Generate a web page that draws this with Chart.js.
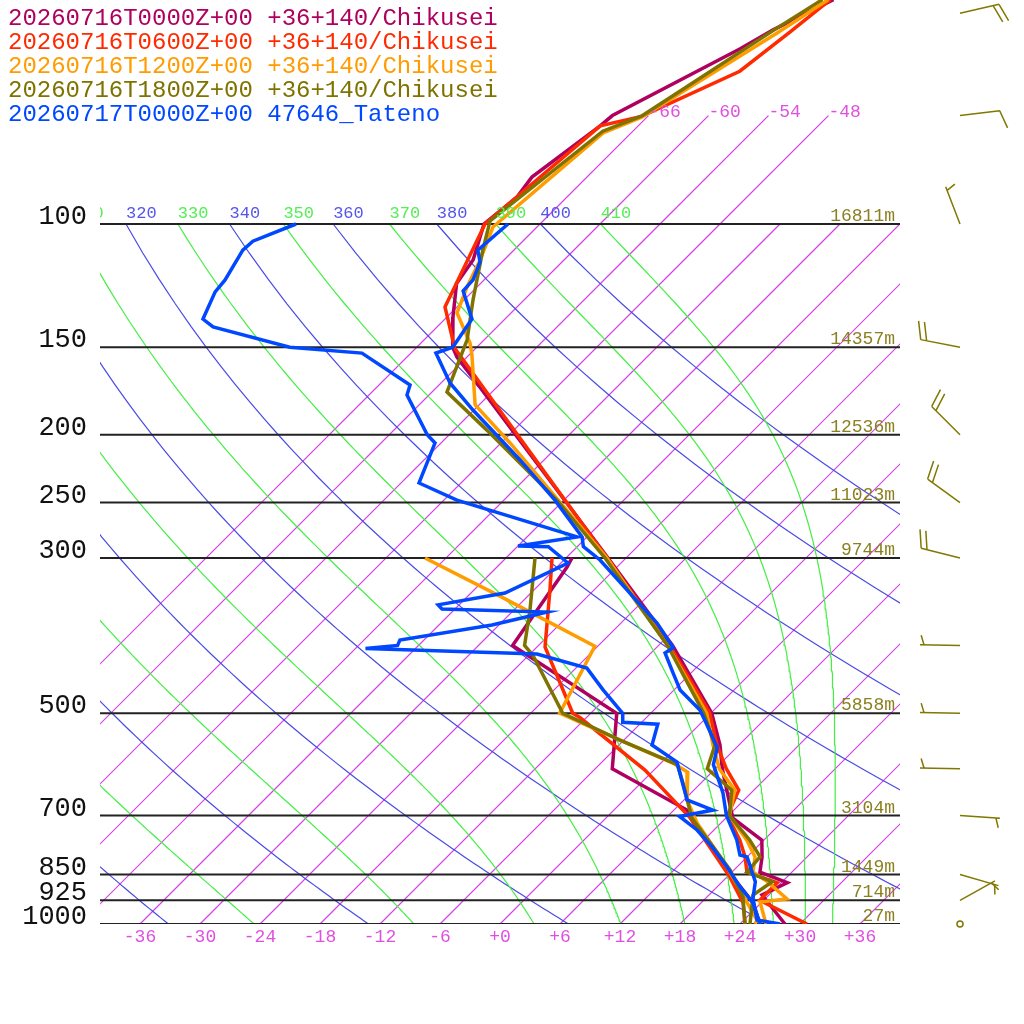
<!DOCTYPE html>
<html>
<head>
<meta charset="utf-8">
<script src="https://cdn.jsdelivr.net/npm/chart.js@4.4.1/dist/chart.umd.min.js"></script>
<style>
  html, body { margin: 0; padding: 0; background: #fff; }
  canvas { display: block; }
</style>
</head>
<body>
<canvas id="skewt" width="1024" height="1024" style="width:1024px;height:1024px"></canvas>
<script>
const CTX = document.getElementById('skewt');

// legend
const runLabels = [
  '20260716T0000Z+00 +36+140/Chikusei',
  '20260716T0600Z+00 +36+140/Chikusei',
  '20260716T1200Z+00 +36+140/Chikusei',
  '20260716T1800Z+00 +36+140/Chikusei',
  '20260717T0000Z+00 47646_Tateno'
];
const runColors = ['#b0005f', '#ff2a00', '#ff9c00', '#7f7300', '#0048ff'];

// 00Z temperature / dew point (hPa, C)
const p00 = [47.8, 52.8, 56.2, 70, 72.4, 85.7, 91.5, 100, 112.5, 121.6, 135.8, 150, 154.9, 171, 300, 400, 500, 555, 600, 644, 706, 759, 802, 843, 873, 909, 1000];
const t00 = [-59.1, -62.1, -63.5, -69.6, -69.8, -71.5, -71.0, -71.6, -69.1, -68.4, -65.4, -62.4, -61.0, -55.7, -25.8, -10.6, 0.1, 4.1, 6.7, 9.3, 12.7, 17.8, 19.5, 20.8, 24.6, 23.3, 28.5];
const pd00 = [300, 309, 400, 500, 600, 687.5, 776, 857, 933, 1000];
const td00 = [-29.4, -29.0, -26.6, -9.4, -4.3, 7.3, 13.6, 18.6, 23.2, 26.0];

// 06Z
const p06 = [47.8, 53.2, 60.5, 70.2, 72.4, 100, 121, 131.4, 150.5, 300, 400, 500, 555, 600, 644, 700, 759, 802, 843, 873, 925, 1000];
const t06 = [-59.4, -60.2, -61.3, -66.6, -69.8, -71.5, -68.5, -67.2, -62.1, -25.9, -10.9, -0.1, 3.8, 7.1, 10.5, 11.9, 15.6, 17.8, 19.5, 23.6, 23.6, 30.7];
const pd06 = [300, 333.4, 402, 500, 507.5, 602.6, 704, 857, 933, 1000];
const td06 = [-31.4, -28.4, -23.2, -13.8, -12.6, -0.9, 8.3, 18.3, 22.2, 24.5];

// 12Z
const p12 = [47.8, 53.4, 70.4, 74.1, 101, 112.5, 123, 134, 147.9, 153.9, 181.3, 205.5, 300, 400, 500, 555, 600, 644, 700, 759, 802, 843, 870, 921, 930, 1000];
const t12 = [-59.6, -61.4, -66.5, -68.8, -70.4, -68.4, -67.0, -65.4, -61.1, -59.7, -54.4, -47.1, -25.9, -11.1, -0.4, 3.4, 6.4, 10.1, 12.1, 16.3, 18.8, 20.1, 22.5, 26.2, 23.8, 26.6];
const pd12 = [300, 342, 401, 500, 546, 589, 607, 665, 717, 829, 987, 1000];
const td12 = [-44.1, -32.3, -18.3, -15.1, -6.4, 1.2, 3.6, 6.3, 9.6, 17.0, 25.3, 25.5];

// 18Z
const p18 = [47.8, 52.5, 70, 73.7, 99, 109, 128.4, 146.4, 173.8, 197, 248, 300, 400, 500, 555, 600, 644, 700, 759, 802, 843, 870, 909, 1000];
const t18 = [-60.2, -61.9, -66.6, -69.0, -71.3, -69.1, -65.1, -61.7, -58.5, -50.7, -36.7, -26.1, -11.1, -0.7, 3.6, 5.2, 9.8, 12.1, 16.6, 19.3, 19.5, 23.0, 22.4, 25.0];
const pd18 = [300, 356, 400, 413, 500, 546, 592, 629, 706, 837, 915, 1000];
const td18 = [-33.1, -28.4, -25.4, -23.6, -14.8, -6.4, 1.8, 4.2, 8.6, 17.6, 21.6, 24.5];

// Tateno observation
const pTat = [100, 109, 113.3, 120.2, 124.6, 136.7, 150, 152.9, 168.7, 184.4, 217.3, 248, 279.9, 289, 302, 371.5, 403, 410, 437.9, 463, 494.8, 515, 560, 592, 650, 700, 759, 797, 802, 870, 918, 987, 1000];
const tTat = [-69.2, -69.6, -68.2, -67.1, -67.0, -63.3, -62.4, -63.5, -59.1, -54.1, -44.4, -36.9, -30.5, -29.4, -26.4, -14.4, -10.3, -10.6, -7.8, -5.4, -1.4, 0.4, 4.1, 5.4, 9.2, 11.8, 15.3, 17.1, 18.0, 21.3, 22.7, 25.3, 28.0];
const pdTat = [100, 105.8, 109, 120.2, 125, 136.7, 140.3, 150, 152.9, 169.8, 175.5, 200, 205.5, 234.4, 248, 279.9, 288.4, 289, 305, 336.7, 350, 354.8, 358.4, 374, 393, 400, 404, 411.4, 431, 463, 500, 515, 518.3, 555, 587, 665, 687.5, 702, 734, 776, 829, 885, 933, 1000];
const tdTat = [-90.4, -93.0, -93.1, -91.9, -91.7, -90.2, -88.4, -78.7, -70.9, -62.9, -62.2, -56.2, -54.6, -52.2, -46.7, -31.0, -36.0, -32.9, -29.3, -32.6, -38.1, -37.3, -26.5, -30.7, -38.4, -38.1, -41.0, -23.3, -16.9, -13.1, -8.8, -7.9, -4.2, -2.7, 1.5, 6.3, 9.9, 7.2, 10.3, 13.5, 17.0, 20.3, 23.2, 26.0];

// axes / reference lines
const pressLevels = [100, 150, 200, 250, 300, 500, 700, 850, 925, 1000];
const heightLabels = ['16811m', '14357m', '12536m', '11023m', '9744m', '5858m', '3104m', '1449m', '714m', '27m'];
const tempTicks = [-36, -30, -24, -18, -12, -6, 0, 6, 12, 18, 24, 30, 36];
const isotherms = [-66, -60, -54, -48, -42, -36, -30, -24, -18, -12, -6, 0, 6, 12, 18, 24, 30, 36];
const isoTop = [-66, -60, -54, -48];
const thetaDry = [240, 260, 280, 300, 320, 340, 360, 380, 400];
const thetaE = [250, 270, 290, 310, 330, 350, 370, 390, 410];

// winds (hPa, deg, kt)
const barbP = [50, 70, 100, 150, 200, 250, 300, 400, 500, 600, 700, 850, 925, 1000];
const barbDir = [77, 83, 339, 281, 315, 306, 284, 271, 271, 271, 94, 106, 61, 0];
const barbKt = [20, 10, 5, 20, 20, 20, 20, 5, 5, 5, 5, 5, 5, 0];

const SKEW = 70;      // degrees per decade of pressure
const P_TOP = 1000 / Math.pow(10, 924 / 700);
const ISO_COLOR = 'rgb(212, 64, 228)';

function sx(t, p) { return t + SKEW * Math.log10(1000 / p); }
function pts(ps, ts) { return ps.map((p, i) => ({ x: sx(ts[i], p), y: p })); }

// thermodynamics for the reference curves
const RD = 287.04, CP = 1005.7, LV = 2.501e6, EPS = 0.622;
function esat(tc) { return 6.112 * Math.exp(17.67 * tc / (tc + 243.5)); }
function rsat(tc, p) { const e = esat(tc); return EPS * e / (p - e); }
function thetaEBolton(tc, p) {
  const tk = tc + 273.15, r = rsat(tc, p) * 1000;
  return tk * Math.pow(1000 / p, 0.2854 * (1 - 0.28e-3 * r)) *
    Math.exp((3.376 / tk - 0.00254) * r * (1 + 0.81e-3 * r));
}
function moistLapse(tk, p) {
  const rs = rsat(tk - 273.15, p);
  return (RD * tk + LV * rs) / (CP + LV * LV * rs * EPS / (RD * tk * tk)) / p;
}
function moistAdiabat(the) {
  let lo = -70, hi = 50;
  for (let i = 0; i < 60; i++) {
    const mid = (lo + hi) / 2;
    if (thetaEBolton(mid, 1000) > the) hi = mid; else lo = mid;
  }
  let tk = (lo + hi) / 2 + 273.15;
  const out = [];
  const h = -5;
  for (let p = 1000; ; p += h) {
    out.push({ x: sx(tk - 273.15, p), y: p });
    if (p <= 100) break;
    const k1 = moistLapse(tk, p);
    const k2 = moistLapse(tk + h * k1 / 2, p + h / 2);
    const k3 = moistLapse(tk + h * k2 / 2, p + h / 2);
    const k4 = moistLapse(tk + h * k3, p + h);
    tk += h * (k1 + 2 * k2 + 2 * k3 + k4) / 6;
  }
  return out;
}
function dryAdiabat(th) {
  const out = [];
  for (let p = 1000; p >= 100; p -= 10) {
    out.push({ x: sx(th * Math.pow(p / 1000, 0.2857) - 273.15, p), y: p });
  }
  return out;
}

function bg(data, color, order) {
  return { data, borderColor: color, backgroundColor: color, borderWidth: 1.2,
    showLine: true, pointRadius: 0, order };
}
function trace(data, color, order) {
  return { data, borderColor: color, backgroundColor: color, borderWidth: 3.5, showLine: true,
    pointRadius: 0, borderJoinStyle: 'miter', order };
}

const datasets = [];
const moistCurves = thetaE.map(moistAdiabat);
const dryCurves = thetaDry.map(dryAdiabat);
moistCurves.forEach(c => datasets.push(bg(c, '#44ee44', 8)));
dryCurves.forEach(c => datasets.push(bg(c, '#4a4ae6', 8)));
isotherms.forEach(t => datasets.push(bg([{ x: sx(t, 1000), y: 1000 }, { x: sx(t, 100), y: 100 }], ISO_COLOR, 9)));
isoTop.forEach(t => datasets.push(bg([{ x: sx(t, 100), y: 100 }, { x: sx(t, 70), y: 70 }], ISO_COLOR, 9)));
pressLevels.forEach(p => datasets.push({ data: [{ x: -40, y: p }, { x: 40, y: p }],
  borderColor: '#222', backgroundColor: '#222', borderWidth: 2, showLine: true, pointRadius: 0, order: 7 }));

const series = [[p00, t00, pd00, td00], [p06, t06, pd06, td06], [p12, t12, pd12, td12],
  [p18, t18, pd18, td18], [pTat, tTat, pdTat, tdTat]];
series.forEach((s, i) => {
  datasets.push(trace(pts(s[0], s[1]), runColors[i], 6 - i));
  datasets.push(trace(pts(s[2], s[3]), runColors[i], 6 - i));
});

function drawBarb(ctx, x0, y0, dir, kt) {
  if (kt < 2.5) {
    ctx.beginPath(); ctx.arc(x0, y0, 3, 0, Math.PI * 2); ctx.stroke();
    return;
  }
  const a = dir * Math.PI / 180;
  const ux = Math.sin(a), uy = -Math.cos(a);
  const px = -uy, py = ux;
  const tx = x0 + ux * 40, ty = y0 + uy * 40;
  ctx.beginPath(); ctx.moveTo(x0, y0); ctx.lineTo(tx, ty);
  let pos = 0, left = kt;
  while (left >= 7.5) {
    const bx = tx - ux * pos, by = ty - uy * pos;
    ctx.moveTo(bx, by);
    ctx.lineTo(bx + 19 * (0.95 * px + 0.3 * ux), by + 19 * (0.95 * py + 0.3 * uy));
    pos += 6; left -= 10;
  }
  if (left >= 2.5) {
    if (pos === 0) pos = 4;
    const bx = tx - ux * pos, by = ty - uy * pos;
    ctx.moveTo(bx, by);
    ctx.lineTo(bx + 10 * (0.95 * px + 0.3 * ux), by + 10 * (0.95 * py + 0.3 * uy));
  }
  ctx.stroke();
}

const labelPlugin = {
  id: 'skewLabels',
  afterDraw(chart) {
    const ctx = chart.ctx, xs = chart.scales.x, ys = chart.scales.y, area = chart.chartArea;
    const mono = '"Liberation Mono", monospace';
    ctx.save();
    ctx.textBaseline = 'alphabetic';

    ctx.font = '24px ' + mono;
    ctx.textAlign = 'left';
    runLabels.forEach((t, i) => { ctx.fillStyle = runColors[i]; ctx.fillText(t, 8, 25 + 24 * i); });

    ctx.font = '27px ' + mono;
    ctx.fillStyle = '#111';
    ctx.textAlign = 'right';
    pressLevels.forEach(p => ctx.fillText(String(p), 87, ys.getPixelForValue(p)));

    ctx.font = '18px ' + mono;
    ctx.fillStyle = '#8a8020';
    pressLevels.forEach((p, i) => ctx.fillText(heightLabels[i], 895, ys.getPixelForValue(p) - 3));

    ctx.fillStyle = '#e050e0';
    ctx.textAlign = 'center';
    tempTicks.forEach(t => ctx.fillText((t >= 0 ? '+' : '') + t, xs.getPixelForValue(t), 942));
    ctx.textAlign = 'left';
    isoTop.forEach(t => ctx.fillText(String(t), xs.getPixelForValue(sx(t, 70)), ys.getPixelForValue(70) + 1));

    ctx.save();
    ctx.beginPath();
    ctx.rect(area.left, 0, area.right - area.left, 1024);
    ctx.clip();
    ctx.font = '17px ' + mono;
    const y100 = ys.getPixelForValue(100) - 6;
    moistCurves.forEach((c, i) => {
      ctx.fillStyle = '#55ee55';
      ctx.fillText(String(thetaE[i]), xs.getPixelForValue(c[c.length - 1].x), y100);
    });
    dryCurves.forEach((c, i) => {
      ctx.fillStyle = '#5555ee';
      ctx.fillText(String(thetaDry[i]), xs.getPixelForValue(c[c.length - 1].x), y100);
    });
    ctx.restore();

    ctx.strokeStyle = '#807800';
    ctx.lineWidth = 1.5;
    barbP.forEach((p, i) => drawBarb(ctx, 960, ys.getPixelForValue(p), barbDir[i], barbKt[i]));
    ctx.restore();
  }
};

new Chart(CTX, {
  type: 'scatter',
  data: { datasets },
  options: {
    responsive: false,
    animation: false,
    events: [],
    layout: { padding: { left: 100, right: 124, top: 0, bottom: 100 } },
    scales: {
      x: { type: 'linear', min: -40, max: 40, display: false },
      y: { type: 'logarithmic', min: P_TOP, max: 1000, reverse: true, display: false }
    },
    elements: { line: { tension: 0 } },
    plugins: { legend: { display: false }, tooltip: { enabled: false } }
  },
  plugins: [labelPlugin]
});
</script>
</body>
</html>
